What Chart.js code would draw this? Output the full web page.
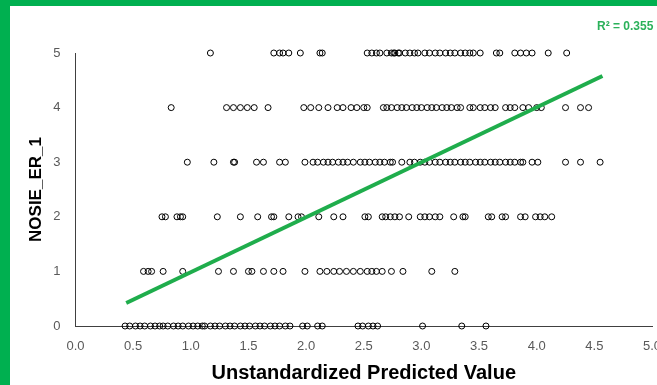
<!DOCTYPE html>
<html>
<head>
<meta charset="utf-8">
<script src="https://cdn.jsdelivr.net/npm/chart.js@4.4.1/dist/chart.umd.min.js"></script>
<style>
  html, body { margin: 0; padding: 0; width: 657px; height: 385px; overflow: hidden; background: #00b050; }
  #caja { position: absolute; left: 10px; top: 6px; width: 720px; height: 379px; background: #fff; }
  #r2 { position: absolute; left: 597px; top: 19px; font: bold 12px 'Liberation Sans', sans-serif; color: #2bb15a; white-space: nowrap; }
</style>
</head>
<body>
<div id="caja">
  <canvas id="graficoDispersion" width="720" height="379"></canvas>
</div>
<div id="r2">R² = 0.355</div>
<script>
// Valores X (Unstandardized Predicted Value) por cada nivel de NOSIE_ER_1
const nivel0 = [0.43, 0.47, 0.52, 0.56, 0.60, 0.65, 0.69, 0.73, 0.76, 0.80, 0.85, 0.89, 0.93, 0.98, 1.02, 1.06, 1.10,
  1.12, 1.17, 1.21, 1.25, 1.30, 1.34, 1.38, 1.43, 1.47, 1.51, 1.56, 1.60, 1.64, 1.69, 1.73, 1.77, 1.82, 1.86,
  1.97, 2.01, 2.10, 2.14, 2.45, 2.49, 2.54, 2.58, 2.62, 3.01, 3.35, 3.56];
const nivel1 = [0.59, 0.63, 0.66, 0.76, 0.93, 1.24, 1.37, 1.50, 1.53, 1.63, 1.72, 1.80, 1.99, 2.12, 2.18, 2.24,
  2.29, 2.35, 2.41, 2.47, 2.53, 2.57, 2.61, 2.66, 2.74, 2.84, 3.09, 3.29];
const nivel2 = [0.75, 0.78, 0.88, 0.91, 0.93, 1.23, 1.43, 1.58, 1.70, 1.72, 1.85, 1.93, 1.96, 2.11, 2.24, 2.32,
  2.51, 2.54, 2.66, 2.69, 2.73, 2.77, 2.81, 2.89, 2.99, 3.03, 3.07, 3.12, 3.16, 3.28, 3.36, 3.38, 3.58, 3.61,
  3.70, 3.73, 3.86, 3.90, 3.99, 4.03, 4.07, 4.13];
const nivel3 = [0.97, 1.20, 1.37, 1.38, 1.57, 1.63, 1.77, 1.82, 1.99, 2.06, 2.10, 2.15, 2.19, 2.23, 2.28, 2.32,
  2.36, 2.41, 2.47, 2.51, 2.55, 2.60, 2.64, 2.68, 2.73, 2.75, 2.83, 2.90, 2.94, 2.99, 3.03, 3.07, 3.12, 3.16,
  3.21, 3.25, 3.29, 3.34, 3.38, 3.42, 3.47, 3.51, 3.55, 3.60, 3.64, 3.68, 3.73, 3.77, 3.81, 3.86, 3.88, 3.96,
  4.01, 4.25, 4.38, 4.55];
const nivel4 = [0.83, 1.31, 1.37, 1.43, 1.49, 1.55, 1.67, 1.98, 2.04, 2.11, 2.19, 2.27, 2.32, 2.39, 2.44, 2.50,
  2.53, 2.67, 2.70, 2.74, 2.79, 2.83, 2.87, 2.92, 2.96, 3.00, 3.05, 3.09, 3.13, 3.18, 3.22, 3.26, 3.31, 3.34,
  3.42, 3.45, 3.51, 3.55, 3.60, 3.64, 3.73, 3.77, 3.81, 3.88, 3.93, 4.00, 4.04, 4.25, 4.38, 4.45];
const nivel5 = [1.17, 1.72, 1.77, 1.80, 1.85, 1.95, 2.12, 2.14, 2.53, 2.57, 2.61, 2.64, 2.70, 2.76, 2.80, 2.74,
  2.77, 2.81, 2.86, 2.90, 2.94, 2.97, 3.03, 3.07, 3.12, 3.16, 3.21, 3.25, 3.29, 3.34, 3.38, 3.42, 3.45, 3.51,
  3.65, 3.68, 3.81, 3.86, 3.91, 3.96, 4.10, 4.26];
const niveles = [nivel0, nivel1, nivel2, nivel3, nivel4, nivel5];

// Línea de tendencia lineal (extremos)
const tendenciaX = [0.44, 4.57];
const tendenciaY = [0.42, 4.58];
const ejeXTicks = [0, 0.5, 1, 1.5, 2, 2.5, 3, 3.5, 4, 4.5, 5];
const ejeYTicks = [0, 1, 2, 3, 4, 5];

const puntos = [];
niveles.forEach((valores, y) => {
    valores.forEach(x => puntos.push({ x: x, y: y }));
});

const fuente = "'Liberation Sans', sans-serif";
const grisTexto = '#595959';

new Chart(document.getElementById('graficoDispersion'), {
    type: 'scatter',
    data: {
        datasets: [
            {
                label: 'NOSIE_ER_1',
                data: puntos,
                pointStyle: 'circle',
                pointRadius: 3,
                borderWidth: 1,
                borderColor: '#000',
                backgroundColor: 'rgba(0,0,0,0)',
                clip: false,
                order: 2
            },
            {
                label: 'Tendencia',
                type: 'line',
                data: tendenciaX.map((x, i) => ({ x: x, y: tendenciaY[i] })),
                borderColor: '#1fad4c',
                borderWidth: 4,
                pointRadius: 0,
                borderCapStyle: 'butt',
                clip: false,
                order: 1
            }
        ]
    },
    options: {
        responsive: false,
        animation: false,
        layout: { padding: { top: 47, left: 0, right: 78, bottom: 0 } },
        plugins: {
            legend: { display: false },
            tooltip: { enabled: false }
        },
        scales: {
            x: {
                type: 'linear',
                min: 0,
                max: 5,
                afterBuildTicks: (eje) => { eje.ticks = ejeXTicks.map(v => ({ value: v })); },
                grid: { display: false, drawTicks: false },
                border: { display: true, color: '#404040', width: 1 },
                ticks: {
                    padding: 13,
                    color: grisTexto,
                    font: { family: fuente, size: 13 },
                    callback: (v) => Number(v).toFixed(1)
                },
                title: {
                    display: true,
                    text: 'Unstandardized Predicted Value',
                    color: '#000',
                    font: { family: fuente, size: 20, weight: 'bold' },
                    padding: { top: 2, bottom: 0 }
                },
                afterFit: (eje) => { eje.height = 59; }
            },
            y: {
                type: 'linear',
                min: 0,
                max: 5,
                afterBuildTicks: (eje) => { eje.ticks = ejeYTicks.map(v => ({ value: v })); },
                grid: { display: false, drawTicks: false },
                border: { display: true, color: '#404040', width: 1 },
                ticks: {
                    padding: 15,
                    color: grisTexto,
                    font: { family: fuente, size: 13 }
                },
                title: {
                    display: true,
                    text: 'NOSIE_ER_1',
                    color: '#000',
                    font: { family: fuente, size: 17, weight: 'bold' },
                    padding: { top: 16, bottom: 0 }
                },
                afterFit: (eje) => { eje.width = 65.5; }
            }
        }
    }
});
</script>
</body>
</html>
